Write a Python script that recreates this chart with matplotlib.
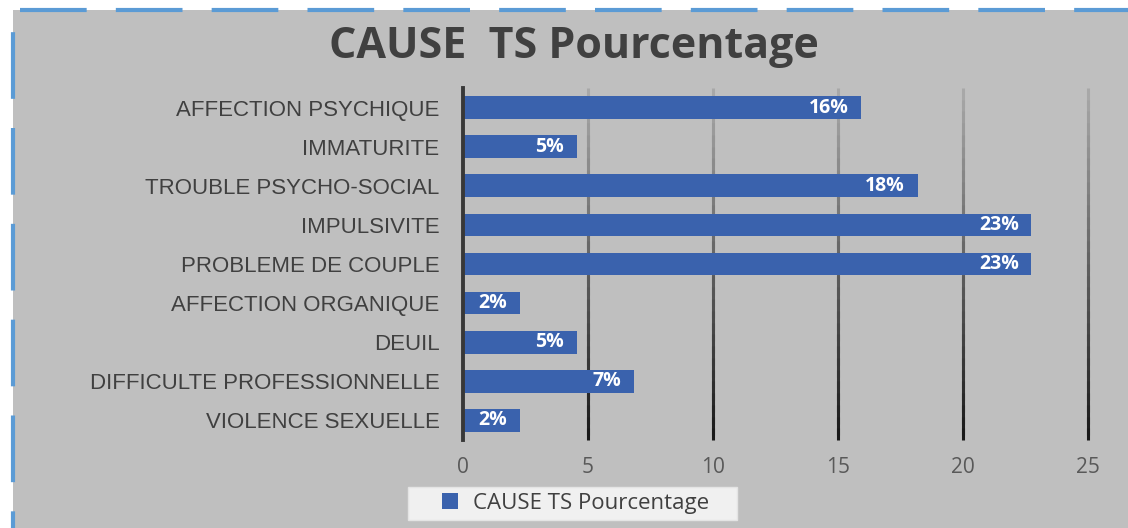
import numpy as np
import matplotlib.pyplot as plt
from matplotlib.patches import Rectangle
from matplotlib.collections import LineCollection

causes = ["AFFECTION PSYCHIQUE", "IMMATURITE", "TROUBLE PSYCHO-SOCIAL", "IMPULSIVITE",
          "PROBLEME DE COUPLE", "AFFECTION ORGANIQUE", "DEUIL",
          "DIFFICULTE PROFESSIONNELLE", "VIOLENCE SEXUELLE"]
pourcentage = [15.91, 4.55, 18.18, 22.73, 22.73, 2.27, 4.55, 6.82, 2.27]
labels = ["16%", "5%", "18%", "23%", "23%", "2%", "5%", "7%", "2%"]
xticks = [0, 5, 10, 15, 20, 25]

bg = "#bfbfbf"
blue = "#3a62ad"

fig = plt.figure(figsize=(11.28, 5.28), dpi=100, facecolor="white")
# grey chart area with dashed blue border (only left/top edges visible)
fig.patches.append(Rectangle((13 / 1128, -0.2), 1.2, 1.2 - 10 / 528,
                             transform=fig.transFigure, facecolor=bg,
                             edgecolor="#5b9bd5", lw=3, linestyle=(0, (16, 7)),
                             zorder=-5))
# legend box
fig.patches.append(Rectangle((408 / 1128, 1 - 520 / 528), 329 / 1128, 33 / 528,
                             transform=fig.transFigure, facecolor="#f0f0f0",
                             edgecolor="#e4e4e4", lw=1, zorder=-4))

ax = fig.add_axes([463 / 1128, 88 / 528, 625 / 1128, 352 / 528])
ax.set_facecolor("none")
y = np.arange(len(causes))
bars = ax.barh(y, pourcentage, height=0.58, color=blue, zorder=3, label="CAUSE TS Pourcentage")
ax.set_ylim(len(causes) - 0.5, -0.5)
ax.set_xlim(0, 25)
ax.set_yticks(y)
ax.set_yticklabels(causes, family="Liberation Sans", fontsize=16, color="#404040")
ax.set_xticks(xticks)
ax.set_xticklabels([str(t) for t in xticks], family="Open Sans", fontsize=15, color="#595959")
ax.tick_params(length=0, axis="y", pad=17)
ax.tick_params(length=0, axis="x", pad=12)
for s in ["top", "right", "bottom"]:
    ax.spines[s].set_visible(False)
ax.spines["left"].set_color("#383838")
ax.spines["left"].set_linewidth(2.8)
ax.spines["left"].set_zorder(4)

# gridlines darkening towards the bottom
segs, cols = [], []
n = 30
for t in xticks[1:]:
    for i in range(n):
        y0, y1 = 1 - i / n, 1 - (i + 1.6) / n
        segs.append([(t, y0), (t, max(y1, 0))])
        g = 0.66 - 0.56 * (i / (n - 1))
        cols.append((g, g, g))
ax.add_collection(LineCollection(segs, colors=cols, linewidths=2.2, capstyle="butt",
                                 transform=ax.get_xaxis_transform(), zorder=1,
                                 clip_on=False))

for b, lab in zip(bars, labels):
    ax.text(b.get_width() - 0.5, b.get_y() + b.get_height() / 2, lab,
            ha="right", va="center", color="white", fontweight="bold",
            family="Open Sans", fontsize=14, zorder=5)

fig.text(574 / 1128, 1 - 46 / 528, "CAUSE  TS Pourcentage", ha="center", va="center",
         family="Open Sans", fontweight="bold", fontsize=31, color="#404040")

leg = ax.legend(loc="center left", bbox_to_anchor=(442 / 1128, 1 - 503 / 528),
                bbox_transform=fig.transFigure, frameon=False,
                prop={"family": "Open Sans", "size": 16}, handlelength=0.7,
                handleheight=0.7, borderpad=0, handletextpad=0.7,
                borderaxespad=0)
for t in leg.get_texts():
    t.set_color("#404040")

fig.savefig("out.png", dpi=100, facecolor="white")
